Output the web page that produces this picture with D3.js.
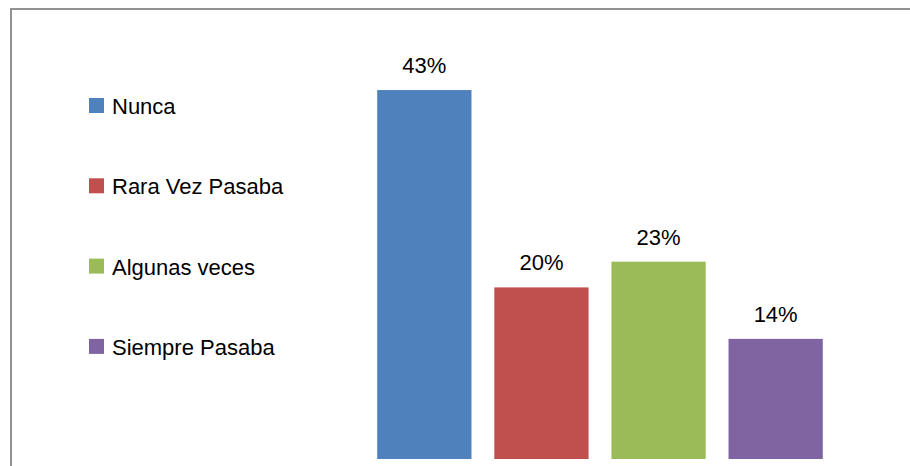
<!DOCTYPE html>
<html>
<head>
<meta charset="utf-8">
<script src="https://cdn.jsdelivr.net/npm/d3@7"></script>
<style>
  body { margin: 0; background: #fff; }
  svg { display: block; }
</style>
</head>
<body>
<div id="chart"></div>
<script>
// data
var categories = ["Nunca", "Rara Vez Pasaba", "Algunas veces", "Siempre Pasaba"];
var values = [43, 20, 23, 14];
var labels = ["43%", "20%", "23%", "14%"];
var colors = ["#4f81bd", "#c0504d", "#9bbb59", "#8064a2"];

var W = 910, H = 466;
var font = "'Liberation Sans', Arial, sans-serif";

var svg = d3.select("#chart")
  .append("svg")
  .attr("width", W)
  .attr("height", H);

// chart frame (runs off the right and bottom edges)
svg.append("rect")
  .attr("x", 11)
  .attr("y", 9)
  .attr("width", W + 10)
  .attr("height", H + 10)
  .attr("fill", "none")
  .attr("stroke", "#929292")
  .attr("stroke-width", 2);

// x: band scale over the plot area
var x = d3.scaleBand()
  .domain(categories)
  .range([377 - 11.5, 823 + 11.5])
  .paddingInner(0.195)
  .paddingOuter(0.1);

// y: linear percent scale
var y = d3.scaleLinear()
  .domain([0, 50])
  .range([459, 459 - 50 * 8.58]);

var g = svg.append("g");

g.selectAll("rect.bar")
  .data(values)
  .join("rect")
  .attr("class", "bar")
  .attr("x", function (d, i) { return x(categories[i]); })
  .attr("y", function (d) { return y(d); })
  .attr("width", x.bandwidth())
  .attr("height", function (d) { return y(0) - y(d); })
  .attr("fill", function (d, i) { return colors[i]; });

g.selectAll("text.val")
  .data(values)
  .join("text")
  .attr("class", "val")
  .attr("x", function (d, i) { return x(categories[i]) + x.bandwidth() / 2; })
  .attr("y", function (d) { return y(d) - 17; })
  .attr("text-anchor", "middle")
  .style("font-family", font)
  .style("font-size", "22px")
  .style("fill", "#000")
  .text(function (d, i) { return labels[i]; });

// legend
var legend = svg.append("g")
  .attr("transform", "translate(89, 98)");

var size = 15, gap = 80.3;

legend.selectAll("rect")
  .data(categories)
  .join("rect")
  .attr("x", 0)
  .attr("y", function (d, i) { return i * gap; })
  .attr("width", size)
  .attr("height", size)
  .attr("fill", function (d, i) { return colors[i]; });

legend.selectAll("text")
  .data(categories)
  .join("text")
  .attr("x", 23)
  .attr("y", function (d, i) { return i * gap + 16; })
  .style("font-family", font)
  .style("font-size", "22px")
  .style("fill", "#000")
  .text(function (d) { return d; });
</script>
</body>
</html>
